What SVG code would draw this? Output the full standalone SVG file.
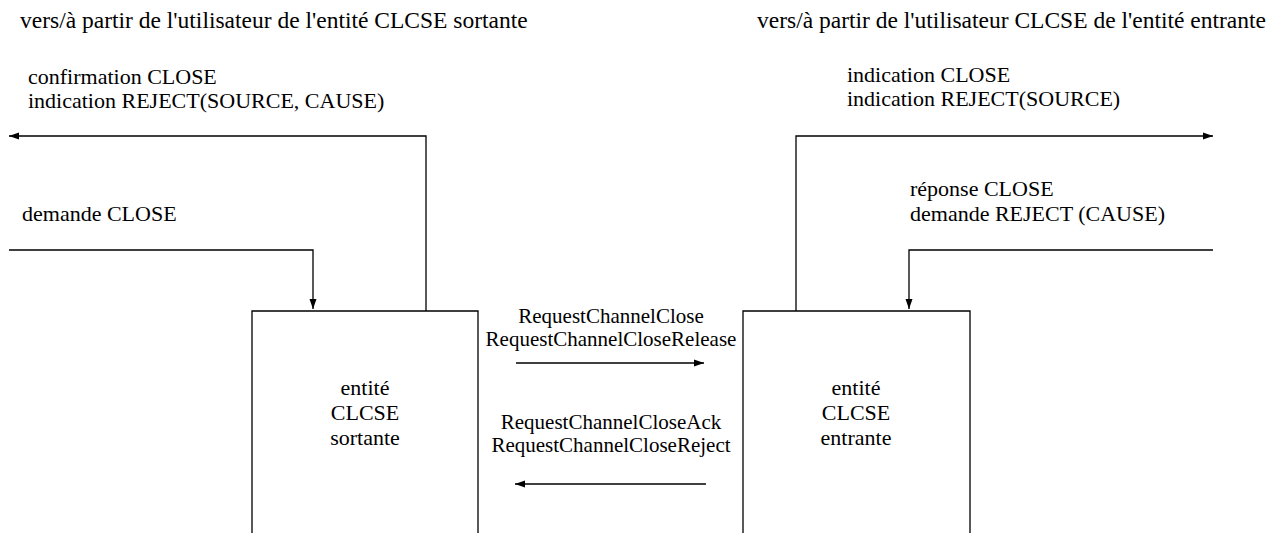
<svg xmlns="http://www.w3.org/2000/svg" width="1273" height="533" viewBox="0 0 1273 533" font-family="'Liberation Serif', 'Times New Roman', serif">
<defs>
<style>
text{font-family:'Liberation Serif','Times New Roman',serif;font-size:22px;fill:#000}
.m{text-anchor:middle}
.sm{font-size:21px}
.tt{font-size:23.5px}
.ln{stroke:#000;stroke-width:1.3;fill:none}
</style>
<marker id="ah" viewBox="0 0 10 10" refX="10" refY="5" markerWidth="10" markerHeight="10" markerUnits="userSpaceOnUse" orient="auto">
<path d="M0,1.5 L10,5 L0,8.5 Z" fill="#000"/>
</marker>
</defs>
<rect x="0" y="0" width="1273" height="533" fill="#fff"/>
<g id="titles">
<text class="tt" x="20" y="28">vers/à partir de l'utilisateur de l'entité CLCSE sortante</text>
<text class="tt" x="757" y="28">vers/à partir de l'utilisateur CLCSE de l'entité entrante</text>
</g>
<g id="node-sortante">
<path class="ln" d="M252,533 V311 H478 V533"/>
<text class="m" x="365" y="395">entité</text>
<text class="m" x="365" y="420">CLCSE</text>
<text class="m" x="365" y="445">sortante</text>
</g>
<g id="node-entrante">
<path class="ln" d="M743,533 V311 H970 V533"/>
<text class="m" x="856" y="395">entité</text>
<text class="m" x="856" y="420">CLCSE</text>
<text class="m" x="856" y="445">entrante</text>
</g>
<g id="connectors">
<polyline class="ln" points="426,311 426,136 9,136" marker-end="url(#ah)"/>
<polyline class="ln" points="9,250 313,250 313,309" marker-end="url(#ah)"/>
<polyline class="ln" points="796,311 796,136 1213,136" marker-end="url(#ah)"/>
<polyline class="ln" points="1213,250 909,250 909,309" marker-end="url(#ah)"/>
<line class="ln" x1="516" y1="363" x2="704" y2="363" marker-end="url(#ah)"/>
<line class="ln" x1="706" y1="484" x2="515" y2="484" marker-end="url(#ah)"/>
</g>
<g id="labels">
<text x="28" y="84">confirmation CLOSE</text>
<text x="28" y="108">indication REJECT(SOURCE, CAUSE)</text>
<text x="22" y="221">demande CLOSE</text>
<text x="847" y="82">indication CLOSE</text>
<text x="847" y="106">indication REJECT(SOURCE)</text>
<text x="910" y="196">réponse CLOSE</text>
<text x="910" y="221">demande REJECT (CAUSE)</text>
<text class="m sm" x="611" y="323">RequestChannelClose</text>
<text class="m sm" x="611" y="346">RequestChannelCloseRelease</text>
<text class="m sm" x="611" y="429">RequestChannelCloseAck</text>
<text class="m sm" x="611" y="452">RequestChannelCloseReject</text>
</g>
</svg>
